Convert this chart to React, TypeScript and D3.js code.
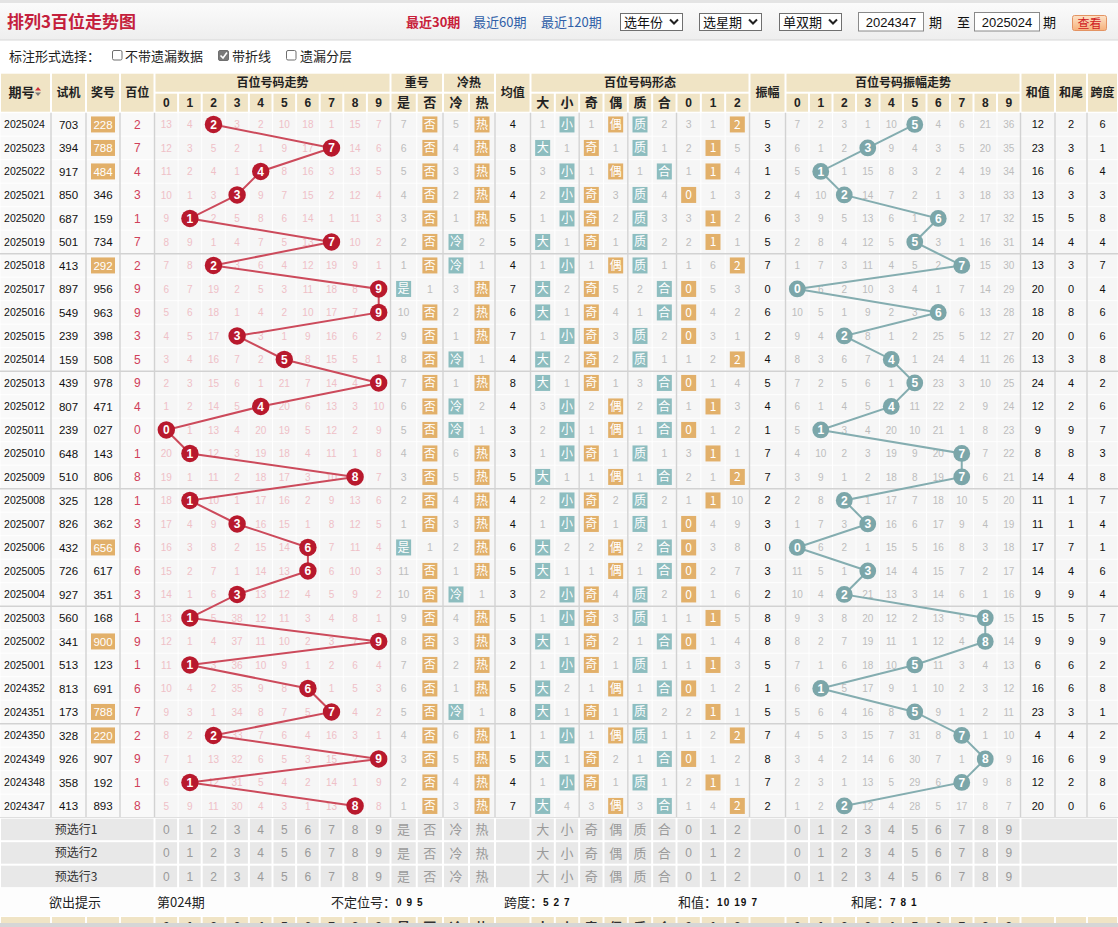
import React from 'react';
import * as d3 from 'd3';

// ---------- data (newest first) ----------
const periods = ['2025024','2025023','2025022','2025021','2025020','2025019','2025018','2025017','2025016','2025015','2025014','2025013','2025012','2025011','2025010','2025009','2025008','2025007','2025006','2025005','2025004','2025003','2025002','2025001','2024352','2024351','2024350','2024349','2024348','2024347'];
const trials = ['703','394','917','850','687','501','413','897','549','239','159','439','807','239','648','510','325','826','432','726','927','560','341','513','813','173','328','926','358','413'];
const draws = ['228','788','484','346','159','734','292','956','963','398','508','978','471','027','143','806','128','362','656','617','351','168','900','123','691','788','220','907','192','893'];
const hotCold = ['热','热','热','热','热','冷','冷','热','热','热','冷','热','冷','冷','热','热','热','热','热','热','冷','热','热','热','热','冷','热','热','热','热'];

// omission values shown on the oldest row (2024347)
const initTrendMiss = [5, 9, 11, 30, 4, 3, 1, 13, 0, 8];
const initRepeatMiss = [1, 0]; // 是, 否
const initHotMiss = [3, 0]; // 冷, 热
const initShapeMiss = [0, 4, 3, 0, 3, 0, 1, 4, 0];
const initAmp = 2;
const initAmpMiss = [1, 2, 0, 12, 4, 28, 5, 17, 8, 7];

const digitLabels = ['0','1','2','3','4','5','6','7','8','9'];
const repeatLabels = ['是','否'];
const hotLabels = ['冷','热'];
const shapeLabels = ['大','小','奇','偶','质','合','0','1','2'];
const primeDigits = [1, 2, 3, 5, 7];
const presetRows = ['预选行1','预选行2','预选行3'];
const tipLabels = ['不定位号：','跨度：','和值：','和尾：'];
const tipValues = ['0 9 5','5 2 7','10 19 7','7 8 1'];
const tipPeriod = '第024期';

// ---------- style ----------
const FONT_CN = '"Noto Sans CJK SC","Microsoft YaHei",sans-serif';
const FONT_NUM = '"Liberation Sans",Arial,sans-serif';
const BEIGE = '#f0e4c5';
const CELL = '#f6f6f6';
const ORANGE = '#e2b06a';
const TEAL = '#8dbdbf';
const RED_BALL = '#b8192d';
const RED_LINE = '#cc4a5b';
const PINK_NUM = '#efc0c7';
const AMP_BALL = '#7ba6a9';
const AMP_LINE = '#84adb0';
const GRAY_NUM = '#bdbdbd';
const SEP = '#d2d2d2';

const W = 1118, H = 927;
const HEAD_TOP = 72.7, HEAD_MID = 92.7, DATA_TOP = 112.7, ROW_H = 23.5;

const X = {
  period: [0, 51], trial: [51, 86], draw: [86, 120], pos: [120, 154.5],
  trend: [154.5, 390.5], rep: [390.5, 443], hot: [443, 495], mean: [495, 530.5],
  shape: [530.5, 749.5], amp: [749.5, 785.5], ampTrend: [785.5, 1020.5],
  sum: [1020.5, 1055], tail: [1055, 1087], span: [1087, 1118],
};

function computeRows() {
  const n = draws.length;
  const out: any[] = new Array(n);
  for (let k = n - 1; k >= 0; k--) {
    const digits = draws[k].split('').map(Number);
    const d = digits[0];
    const prev = k < n - 1 ? out[k + 1] : null;
    const trendMiss = prev ? prev.trendMiss.map((m: number, j: number) => (j === d ? 0 : m + 1)) : initTrendMiss.slice();
    const isRep = prev ? prev.d === d : false;
    const repMiss = prev ? [isRep ? 0 : prev.repMiss[0] + 1, isRep ? prev.repMiss[1] + 1 : 0] : initRepeatMiss.slice();
    const isCold = hotCold[k] === '冷';
    const hotMiss = prev ? [isCold ? 0 : prev.hotMiss[0] + 1, isCold ? prev.hotMiss[1] + 1 : 0] : initHotMiss.slice();
    const prime = primeDigits.includes(d);
    const flags = [d >= 5, d < 5, d % 2 === 1, d % 2 === 0, prime, !prime, d % 3 === 0, d % 3 === 1, d % 3 === 2];
    const shapeMiss = prev ? flags.map((f, j) => (f ? 0 : prev.shapeMiss[j] + 1)) : initShapeMiss.slice();
    const amp = prev ? Math.abs(d - prev.d) : initAmp;
    const ampMiss = prev ? prev.ampMiss.map((m: number, j: number) => (j === amp ? 0 : m + 1)) : initAmpMiss.slice();
    const sum = d3.sum(digits);
    out[k] = {
      d, digits, trendMiss, repMiss, hotMiss, shapeMiss, amp, ampMiss, sum,
      tail: sum % 10, span: (d3.max(digits) as number) - (d3.min(digits) as number),
      mean: Math.round(sum / 3), pair: new Set(digits).size < 3,
    };
  }
  return out;
}

const Cell = ({ x0, x1, y0, y1, fill, inset = 0.5 }: any) => (
  <rect x={x0 + inset} y={y0 + inset} width={Math.max(0, x1 - x0 - 2 * inset)} height={Math.max(0, y1 - y0 - 2 * inset)} fill={fill} />
);

const Badge = ({ cx, cy, label, color, w = 15 }: any) => (
  <g>
    <rect x={cx - w / 2} y={cy - 8} width={w} height={16} fill={color} />
    <text x={cx} y={cy} dy="0.36em" textAnchor="middle" fontSize={12} fill="#fff" fontFamily={FONT_CN}>{label}</text>
  </g>
);

const Select = ({ x, label }: any) => (
  <g>
    <rect x={x + 0.5} y={13.5} width={62} height={17} fill="#fff" stroke="#707070" />
    <text x={x + 4} y={27} fontSize={13} fill="#111" fontFamily={FONT_CN}>{label}</text>
    <path d={`M${x + 50},${19.5} L${x + 54},${23.5} L${x + 58},${19.5}`} fill="none" stroke="#222" strokeWidth={2} />
  </g>
);

export default function App() {
  const rows = computeRows();
  const N = rows.length;
  const yBand = d3.scaleBand<number>().domain(d3.range(N)).range([DATA_TOP, DATA_TOP + N * ROW_H]);
  const cy = (i: number) => (yBand(i) as number) + ROW_H / 2;
  const xTrend = d3.scaleBand<number>().domain(d3.range(10)).range(X.trend as [number, number]);
  const xRep = d3.scaleBand<number>().domain([0, 1]).range(X.rep as [number, number]);
  const xHot = d3.scaleBand<number>().domain([0, 1]).range(X.hot as [number, number]);
  const xShape = d3.scaleBand<number>().domain(d3.range(9)).range(X.shape as [number, number]);
  const xAmp = d3.scaleBand<number>().domain(d3.range(10)).range(X.ampTrend as [number, number]);
  const cxT = (j: number) => (xTrend(j) as number) + xTrend.bandwidth() / 2;
  const cxA = (j: number) => (xAmp(j) as number) + xAmp.bandwidth() / 2;
  const cxS = (j: number) => (xShape(j) as number) + xShape.bandwidth() / 2;
  const cxR = (j: number) => (xRep(j) as number) + xRep.bandwidth() / 2;
  const cxH = (j: number) => (xHot(j) as number) + xHot.bandwidth() / 2;
  const mid = (r: number[]) => (r[0] + r[1]) / 2;

  // sub-columns list for cell backgrounds
  const subCols: number[][] = [];
  [X.period, X.trial, X.draw, X.pos].forEach((r) => subCols.push(r));
  d3.range(10).forEach((j) => subCols.push([xTrend(j) as number, (xTrend(j) as number) + xTrend.bandwidth()]));
  d3.range(2).forEach((j) => subCols.push([xRep(j) as number, (xRep(j) as number) + xRep.bandwidth()]));
  d3.range(2).forEach((j) => subCols.push([xHot(j) as number, (xHot(j) as number) + xHot.bandwidth()]));
  subCols.push(X.mean);
  d3.range(9).forEach((j) => subCols.push([xShape(j) as number, (xShape(j) as number) + xShape.bandwidth()]));
  subCols.push(X.amp);
  d3.range(10).forEach((j) => subCols.push([xAmp(j) as number, (xAmp(j) as number) + xAmp.bandwidth()]));
  [X.sum, X.tail, X.span].forEach((r) => subCols.push(r));

  const shapeColor = (j: number) => ([0, 1, 4, 5].includes(j) ? TEAL : ORANGE);

  const trendLine = d3.line<any>().x((r) => cxT(r.d)).y((_r, i) => cy(i));
  const ampLine = d3.line<any>().x((r) => cxA(r.amp)).y((_r, i) => cy(i));

  const vSeps = [X.trial[0], X.draw[0], X.pos[0], X.trend[0], X.rep[0], X.hot[0], X.mean[0], X.shape[0],
    xShape(2) as number, xShape(4) as number, xShape(6) as number, X.amp[0], X.ampTrend[0], X.sum[0], X.tail[0], X.span[0]];
  const groupRows = [6, 11, 16, 21, 26];

  const PRE_TOP = DATA_TOP + N * ROW_H;
  const preY = (k: number) => PRE_TOP + k * ROW_H;
  const TIP_TOP = preY(3), TIP_BOT = 916;

  const headerSpan2: [number[], string, number?][] = [
    [X.period, '期号', 13], [X.trial, '试机'], [X.draw, '奖号'], [X.pos, '百位'], [X.mean, '均值'],
    [X.amp, '振幅'], [X.sum, '和值'], [X.tail, '和尾'], [X.span, '跨度'],
  ];
  const headerGroups: [number[], string][] = [
    [X.trend, '百位号码走势'], [X.rep, '重号'], [X.hot, '冷热'], [X.shape, '百位号码形态'], [X.ampTrend, '百位号码振幅走势'],
  ];

  const subHeader = (yTop: number, yBot: number, fill: string, textColor: string, bold: boolean, inset: number) => (
    <g>
      {d3.range(10).map((j) => (
        <g key={'t' + j}>
          <Cell x0={xTrend(j)} x1={(xTrend(j) as number) + xTrend.bandwidth()} y0={yTop} y1={yBot} fill={fill} inset={inset} />
          <text x={cxT(j)} y={(yTop + yBot) / 2} dy="0.36em" textAnchor="middle" fontSize={12} fontWeight={bold ? 'bold' : 'normal'} fill={textColor} fontFamily={FONT_NUM}>{digitLabels[j]}</text>
        </g>
      ))}
      {repeatLabels.map((l, j) => (
        <g key={'r' + j}>
          <Cell x0={xRep(j)} x1={(xRep(j) as number) + xRep.bandwidth()} y0={yTop} y1={yBot} fill={fill} inset={inset} />
          <text x={cxR(j)} y={(yTop + yBot) / 2} dy="0.36em" textAnchor="middle" fontSize={13} fontWeight={bold ? 'bold' : 'normal'} fill={textColor} fontFamily={FONT_CN}>{l}</text>
        </g>
      ))}
      {hotLabels.map((l, j) => (
        <g key={'h' + j}>
          <Cell x0={xHot(j)} x1={(xHot(j) as number) + xHot.bandwidth()} y0={yTop} y1={yBot} fill={fill} inset={inset} />
          <text x={cxH(j)} y={(yTop + yBot) / 2} dy="0.36em" textAnchor="middle" fontSize={13} fontWeight={bold ? 'bold' : 'normal'} fill={textColor} fontFamily={FONT_CN}>{l}</text>
        </g>
      ))}
      {shapeLabels.map((l, j) => (
        <g key={'s' + j}>
          <Cell x0={xShape(j)} x1={(xShape(j) as number) + xShape.bandwidth()} y0={yTop} y1={yBot} fill={fill} inset={inset} />
          <text x={cxS(j)} y={(yTop + yBot) / 2} dy="0.36em" textAnchor="middle" fontSize={j >= 6 ? 12 : 13} fontWeight={bold ? 'bold' : 'normal'} fill={textColor} fontFamily={j >= 6 ? FONT_NUM : FONT_CN}>{l}</text>
        </g>
      ))}
      {d3.range(10).map((j) => (
        <g key={'a' + j}>
          <Cell x0={xAmp(j)} x1={(xAmp(j) as number) + xAmp.bandwidth()} y0={yTop} y1={yBot} fill={fill} inset={inset} />
          <text x={cxA(j)} y={(yTop + yBot) / 2} dy="0.36em" textAnchor="middle" fontSize={12} fontWeight={bold ? 'bold' : 'normal'} fill={textColor} fontFamily={FONT_NUM}>{digitLabels[j]}</text>
        </g>
      ))}
    </g>
  );

  return (
    <div style={{ position: 'absolute', left: 0, top: 0, width: W, height: H, overflow: 'hidden' }}>
      <svg width={W} height={H} viewBox={`0 0 ${W} ${H}`} style={{ display: 'block' }}>
        <defs>
          <linearGradient id="topbar" x1="0" y1="0" x2="0" y2="1">
            <stop offset="0" stopColor="#fbfbfb" />
            <stop offset="1" stopColor="#eeeeee" />
          </linearGradient>
          <linearGradient id="btn" x1="0" y1="0" x2="0" y2="1">
            <stop offset="0" stopColor="#fde3c8" />
            <stop offset="1" stopColor="#f6b07a" />
          </linearGradient>
        </defs>
        <rect x={0} y={0} width={W} height={H} fill="#fff" />

        {/* top bar */}
        <rect x={0} y={0} width={W} height={3} fill="#e4e4e4" />
        <rect x={0} y={3} width={W} height={37} fill="url(#topbar)" />
        <line x1={0} x2={W} y1={40} y2={40} stroke="#d8d8d8" />
        <text x={7} y={28} fontSize={17} fontWeight="bold" fill="#c4203c" fontFamily={FONT_CN}>排列3百位走势图</text>
        <text x={406} y={27} fontSize={13} fontWeight="bold" fill="#c8203a" fontFamily={FONT_CN}>最近30期</text>
        <text x={473} y={27} fontSize={13} fill="#2f5fa8" fontFamily={FONT_CN}>最近60期</text>
        <text x={541} y={27} fontSize={13} fill="#2f5fa8" fontFamily={FONT_CN}>最近120期</text>
        <Select x={620} label="选年份" />
        <Select x={699} label="选星期" />
        <Select x={779} label="单双期" />
        <rect x={858.5} y={12.5} width={65} height={18.5} fill="#fff" stroke="#8a8a8a" />
        <text x={891} y={27} textAnchor="middle" fontSize={13} fill="#111" fontFamily={FONT_NUM}>{periods[N - 1]}</text>
        <text x={929} y={27} fontSize={13} fill="#111" fontFamily={FONT_CN}>期</text>
        <text x={957} y={27} fontSize={13} fill="#111" fontFamily={FONT_CN}>至</text>
        <rect x={974.5} y={12.5} width={65} height={18.5} fill="#fff" stroke="#8a8a8a" />
        <text x={1007} y={27} textAnchor="middle" fontSize={13} fill="#111" fontFamily={FONT_NUM}>{periods[0]}</text>
        <text x={1043} y={27} fontSize={13} fill="#111" fontFamily={FONT_CN}>期</text>
        <rect x={1072.5} y={15.5} width={34} height={15} rx={2} fill="url(#btn)" stroke="#e39363" />
        <text x={1089.5} y={27.5} textAnchor="middle" fontSize={12} fill="#d0201f" fontFamily={FONT_CN}>查看</text>

        {/* option row */}
        <text x={9} y={61} fontSize={13} fill="#222" fontFamily={FONT_CN}>标注形式选择：</text>
        <rect x={112.5} y={50.5} width={9.5} height={9.5} rx={1.5} fill="#fff" stroke="#6f6f6f" />
        <text x={125} y={61} fontSize={13} fill="#222" fontFamily={FONT_CN}>不带遗漏数据</text>
        <rect x={218.5} y={50.5} width={10} height={10} rx={1.5} fill="#7a7a7a" stroke="#6f6f6f" />
        <path d="M220.5,55.5 L223,58 L227,52.5" fill="none" stroke="#fff" strokeWidth={1.6} />
        <text x={232} y={61} fontSize={13} fill="#222" fontFamily={FONT_CN}>带折线</text>
        <rect x={286.5} y={50.5} width={9.5} height={9.5} rx={1.5} fill="#fff" stroke="#6f6f6f" />
        <text x={300} y={61} fontSize={13} fill="#222" fontFamily={FONT_CN}>遗漏分层</text>

        {/* header */}
        {headerSpan2.map(([r, label, fs], i) => (
          <g key={'hs' + i}>
            <Cell x0={r[0]} x1={r[1]} y0={HEAD_TOP} y1={DATA_TOP} fill={BEIGE} inset={1} />
            <text x={i === 0 ? mid(r) - 4 : mid(r)} y={(HEAD_TOP + DATA_TOP) / 2} dy="0.36em" textAnchor="middle" fontSize={fs || 12} fontWeight="bold" fill="#222" fontFamily={FONT_CN}>{label}</text>
          </g>
        ))}
        <path d="M35,90.5 L41,90.5 L38,87 Z" fill="#d0303a" />
        <path d="M35,92.5 L41,92.5 L38,96 Z" fill="#777" />
        {headerGroups.map(([r, label], i) => (
          <g key={'hg' + i}>
            <Cell x0={r[0]} x1={r[1]} y0={HEAD_TOP} y1={HEAD_MID} fill={BEIGE} inset={1} />
            <text x={mid(r)} y={(HEAD_TOP + HEAD_MID) / 2} dy="0.36em" textAnchor="middle" fontSize={12} fontWeight="bold" fill="#222" fontFamily={FONT_CN}>{label}</text>
          </g>
        ))}
        {subHeader(HEAD_MID, DATA_TOP, BEIGE, '#222', true, 1)}

        {/* data cell backgrounds */}
        {rows.map((_r, i) => (
          <g key={'bg' + i}>
            {subCols.map((c, k) => (
              <Cell key={k} x0={c[0]} x1={c[1]} y0={yBand(i)} y1={(yBand(i) as number) + ROW_H} fill={k < 4 ? '#f9f9f9' : CELL} inset={0.5} />
            ))}
          </g>
        ))}
        {/* separators */}
        {vSeps.map((x, i) => (
          <line key={'vs' + i} x1={x} x2={x} y1={DATA_TOP} y2={PRE_TOP} stroke={SEP} strokeWidth={1.4} />
        ))}
        {groupRows.map((g) => (
          <line key={'gr' + g} x1={0} x2={W} y1={yBand(g)} y2={yBand(g)} stroke={SEP} strokeWidth={1.6} />
        ))}
        <line x1={0} x2={W} y1={PRE_TOP} y2={PRE_TOP} stroke={SEP} strokeWidth={1.4} />

        {/* data text */}
        {rows.map((r, i) => {
          const y = cy(i);
          return (
            <g key={'row' + i} fontFamily={FONT_NUM}>
              <text x={mid(X.period) - 1} y={y} dy="0.36em" textAnchor="middle" fontSize={10.5} fill="#111">{periods[i]}</text>
              <text x={mid(X.trial)} y={y} dy="0.36em" textAnchor="middle" fontSize={11.5} fill="#111">{trials[i]}</text>
              {r.pair && <rect x={mid(X.draw) - 12} y={y - 8} width={24} height={16} fill={ORANGE} />}
              <text x={mid(X.draw)} y={y} dy="0.36em" textAnchor="middle" fontSize={11.5} fill={r.pair ? '#fff' : '#111'}>{draws[i]}</text>
              <text x={mid(X.pos)} y={y} dy="0.36em" textAnchor="middle" fontSize={12} fill="#d0405a">{r.d}</text>
              {r.trendMiss.map((m: number, j: number) => m > 0 && (
                <text key={'tm' + j} x={cxT(j)} y={y} dy="0.36em" textAnchor="middle" fontSize={10} fill={PINK_NUM}>{m}</text>
              ))}
              {r.repMiss.map((m: number, j: number) => m === 0
                ? <Badge key={'rp' + j} cx={cxR(j)} cy={y} label={repeatLabels[j]} color={j === 0 ? TEAL : ORANGE} />
                : <text key={'rp' + j} x={cxR(j)} y={y} dy="0.36em" textAnchor="middle" fontSize={10.5} fill={GRAY_NUM}>{m}</text>)}
              {r.hotMiss.map((m: number, j: number) => m === 0
                ? <Badge key={'hm' + j} cx={cxH(j)} cy={y} label={hotLabels[j]} color={j === 0 ? TEAL : ORANGE} />
                : <text key={'hm' + j} x={cxH(j)} y={y} dy="0.36em" textAnchor="middle" fontSize={10.5} fill={GRAY_NUM}>{m}</text>)}
              <text x={mid(X.mean)} y={y} dy="0.36em" textAnchor="middle" fontSize={11} fill="#111">{r.mean}</text>
              {r.shapeMiss.map((m: number, j: number) => m === 0
                ? <Badge key={'sm' + j} cx={cxS(j)} cy={y} label={shapeLabels[j]} color={shapeColor(j)} />
                : <text key={'sm' + j} x={cxS(j)} y={y} dy="0.36em" textAnchor="middle" fontSize={10.5} fill={GRAY_NUM}>{m}</text>)}
              <text x={mid(X.amp)} y={y} dy="0.36em" textAnchor="middle" fontSize={11} fill="#111">{r.amp}</text>
              {r.ampMiss.map((m: number, j: number) => m > 0 && (
                <text key={'am' + j} x={cxA(j)} y={y} dy="0.36em" textAnchor="middle" fontSize={10} fill={GRAY_NUM}>{m}</text>
              ))}
              <text x={mid(X.sum)} y={y} dy="0.36em" textAnchor="middle" fontSize={11} fill="#111">{r.sum}</text>
              <text x={mid(X.tail)} y={y} dy="0.36em" textAnchor="middle" fontSize={11} fill="#111">{r.tail}</text>
              <text x={mid(X.span)} y={y} dy="0.36em" textAnchor="middle" fontSize={11} fill="#111">{r.span}</text>
            </g>
          );
        })}

        {/* trend lines and balls */}
        <path d={trendLine(rows) || ''} fill="none" stroke={RED_LINE} strokeWidth={2} />
        <path d={ampLine(rows) || ''} fill="none" stroke={AMP_LINE} strokeWidth={2} />
        {rows.map((r, i) => (
          <g key={'ball' + i}>
            <circle cx={cxT(r.d)} cy={cy(i)} r={8.7} fill={RED_BALL} />
            <text x={cxT(r.d)} y={cy(i)} dy="0.36em" textAnchor="middle" fontSize={12} fontWeight="bold" fill="#fff" fontFamily={FONT_NUM}>{r.d}</text>
            <circle cx={cxA(r.amp)} cy={cy(i)} r={8.4} fill={AMP_BALL} />
            <text x={cxA(r.amp)} y={cy(i)} dy="0.36em" textAnchor="middle" fontSize={12} fontWeight="bold" fill="#fff" fontFamily={FONT_NUM}>{r.amp}</text>
          </g>
        ))}

        {/* preset rows */}
        {presetRows.map((label, k) => {
          const y0 = preY(k), y1 = preY(k + 1);
          return (
            <g key={'pre' + k}>
              <rect x={0} y={y0} width={W} height={ROW_H} fill="#fff" />
              <Cell x0={0} x1={X.pos[1]} y0={y0} y1={y1} fill="#e8e8e8" inset={1} />
              <text x={76} y={(y0 + y1) / 2} dy="0.36em" textAnchor="middle" fontSize={12} fill="#333" fontFamily={FONT_CN}>{label}</text>
              {subHeader(y0, y1, '#e8e8e8', '#9a9a9a', false, 1)}
              <Cell x0={X.mean[0]} x1={X.mean[1]} y0={y0} y1={y1} fill="#e8e8e8" inset={1} />
              <Cell x0={X.amp[0]} x1={X.amp[1]} y0={y0} y1={y1} fill="#e8e8e8" inset={1} />
              <Cell x0={X.sum[0]} x1={W} y0={y0} y1={y1} fill="#e8e8e8" inset={1} />
            </g>
          );
        })}

        {/* tip row */}
        <rect x={0} y={TIP_TOP} width={W} height={TIP_BOT - TIP_TOP} fill="#fdfdfd" />
        <g fontFamily={FONT_CN} fontSize={13} fill="#222">
          <text x={75} y={(TIP_TOP + TIP_BOT) / 2} dy="0.36em" textAnchor="middle">欲出提示</text>
          <text x={157} y={(TIP_TOP + TIP_BOT) / 2} dy="0.36em">{tipPeriod}</text>
          {tipLabels.map((l, i) => {
            const xs = [331, 504, 678, 851];
            return (
              <g key={'tip' + i}>
                <text x={xs[i]} y={(TIP_TOP + TIP_BOT) / 2} dy="0.36em">{l}</text>
                <text x={xs[i] + (i === 0 ? 65 : 39)} y={(TIP_TOP + TIP_BOT) / 2} dy="0.36em" fontSize={10} letterSpacing={1.1} fontWeight="bold" fontFamily={FONT_NUM} fill="#111" style={{ whiteSpace: 'pre' }}>{tipValues[i]}</text>
              </g>
            );
          })}
        </g>

        {/* repeated header row at the bottom (cut off) */}
        {headerSpan2.map(([r], i) => (
          <Cell key={'bh' + i} x0={r[0]} x1={r[1]} y0={TIP_BOT} y1={TIP_BOT + 22} fill={BEIGE} inset={1} />
        ))}
        {subHeader(TIP_BOT, TIP_BOT + 22, BEIGE, '#333', true, 1)}
        <rect x={0} y={923} width={W} height={4} fill="#d6d6d6" />
      </svg>
    </div>
  );
}
